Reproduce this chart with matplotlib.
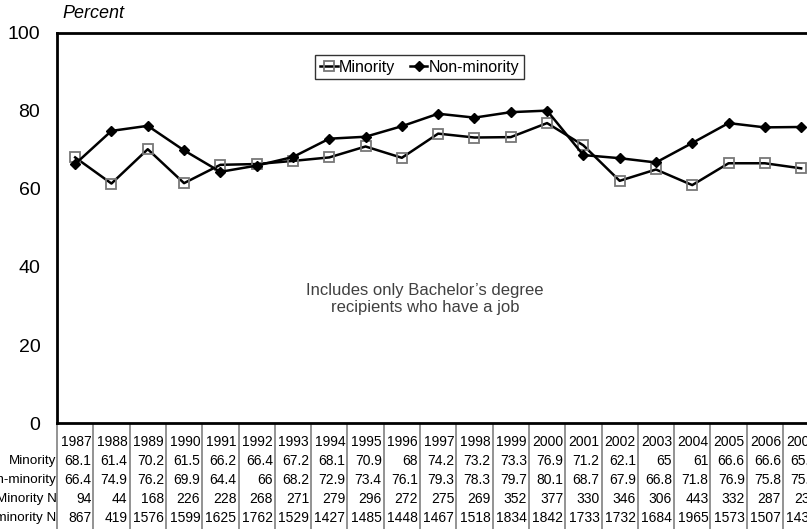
import matplotlib
matplotlib.use("Agg")
import matplotlib.pyplot as plt
import matplotlib.transforms as mtransforms

years = list(range(1987, 2008))
minority = [68.1, 61.4, 70.2, 61.5, 66.2, 66.4, 67.2, 68.1, 70.9, 68, 74.2, 73.2, 73.3, 76.9, 71.2, 62.1, 65, 61, 66.6, 66.6, 65.3]
non_minority = [66.4, 74.9, 76.2, 69.9, 64.4, 66, 68.2, 72.9, 73.4, 76.1, 79.3, 78.3, 79.7, 80.1, 68.7, 67.9, 66.8, 71.8, 76.9, 75.8, 75.9]
minority_n = [94, 44, 168, 226, 228, 268, 271, 279, 296, 272, 275, 269, 352, 377, 330, 346, 306, 443, 332, 287, 235]
non_minority_n = [867, 419, 1576, 1599, 1625, 1762, 1529, 1427, 1485, 1448, 1467, 1518, 1834, 1842, 1733, 1732, 1684, 1965, 1573, 1507, 1436]
row_labels = ["Minority", "Non-minority", "Minority N", "Non-minority N"]
yticks = [0, 20, 40, 60, 80, 100]

plt.rcParams['font.family'] = ['Liberation Sans', 'DejaVu Sans']

W, H = 807, 529
fig = plt.figure(figsize=(W / 100, H / 100), dpi=100)
ax_left, ax_top, ax_bottom = 57, 33, 423
col_w = 36.3
ax_w = col_w * len(years)
ax = fig.add_axes([ax_left / W, 1 - ax_bottom / H, ax_w / W, (ax_bottom - ax_top) / H])
ax_h = ax_bottom - ax_top

ax.plot(years, minority, color='black', lw=1.8, marker='s', ms=7.5, mfc='none',
        mec='#777777', mew=1.3, label='Minority', zorder=3)
ax.plot(years, non_minority, color='black', lw=1.8, marker='D', ms=5.5, mfc='black',
        mec='black', label='Non-minority', zorder=3)

ax.set_xlim(years[0] - 0.5, years[-1] + 0.5)
ax.set_ylim(0, 100)
ax.set_yticks(yticks)
ax.set_yticklabels([str(v) for v in yticks], fontsize=14)
ax.tick_params(axis='y', length=0, pad=12)
ax.set_xticks([])
for s in ['left', 'top', 'bottom']:
    ax.spines[s].set_linewidth(2)
ax.spines['right'].set_visible(False)

ax.text(0.007, 1.05, 'Percent', transform=ax.transAxes, fontsize=13,
        style='italic', ha='left', va='center')

leg = ax.legend(loc='upper center', bbox_to_anchor=(0.476, 0.944), ncol=2,
                fontsize=11.5, frameon=True, fancybox=False, handlelength=1.1,
                handletextpad=0.1, columnspacing=0.9, borderpad=0.3,
                borderaxespad=0)
leg.get_frame().set_edgecolor('black')
leg.get_frame().set_linewidth(1.0)

ax.text(0.483, 0.318, "Includes only Bachelor\u2019s degree\nrecipients who have a job",
        transform=ax.transAxes, ha='center', va='center', fontsize=12,
        color='#404040', linespacing=1.1)

# data table beneath the axes
blend = mtransforms.blended_transform_factory(ax.transData, ax.transAxes)
row_centers_px = [442, 461, 480, 499, 518]
fr = lambda py: -(py - ax_bottom) / ax_h
pad = mtransforms.ScaledTranslation(-2 / 100, 0, fig.dpi_scale_trans)
pad_lbl = mtransforms.ScaledTranslation(-0.5 / 100, 0, fig.dpi_scale_trans)
tr = blend + pad
tr_lbl = blend + pad_lbl

bounds = [y - 0.5 for y in years] + [years[-1] + 0.5]
ax.vlines(bounds, fr(H + 5), 0, transform=blend, colors='#8a8a8a', lw=1.3, clip_on=False)

rows = [[str(y) for y in years],
        [f"{v:g}" for v in minority],
        [f"{v:g}" for v in non_minority],
        [str(v) for v in minority_n],
        [str(v) for v in non_minority_n]]
for ri, row in enumerate(rows):
    yv = fr(row_centers_px[ri])
    for yr, txt in zip(years, row):
        ax.text(yr + 0.5, yv, txt, transform=tr, ha='right', va='center',
                fontsize=10, clip_on=False)
    if ri > 0:
        ax.text(years[0] - 0.5, yv, row_labels[ri - 1], transform=tr_lbl, ha='right',
                va='center', fontsize=9.7, clip_on=False)

fig.savefig('out.png', dpi=100)
